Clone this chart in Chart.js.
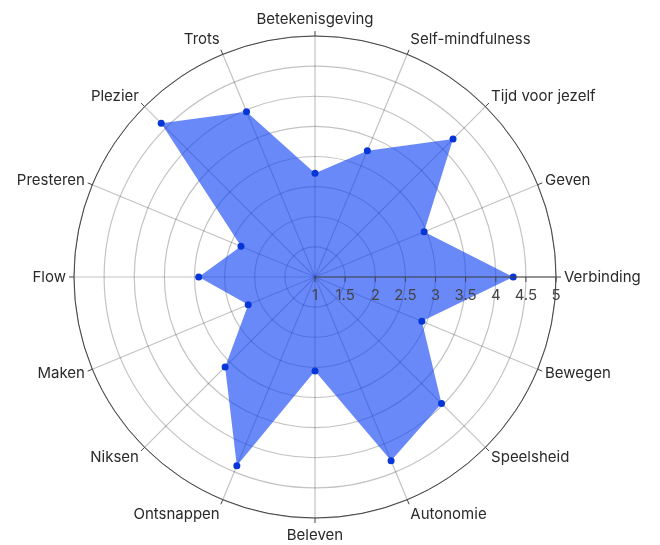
<!DOCTYPE html>
<html lang="nl">
<head>
<meta charset="UTF-8">
<script src="https://cdn.jsdelivr.net/npm/chart.js@4.4.1/dist/chart.umd.min.js"></script>
<title>Radar</title>
<style>
  html, body { margin: 0; padding: 0; background: #fff; }
  #wrap { width: 660px; height: 545px; }
</style>
</head>
<body>
<div id="wrap"><canvas id="chart"></canvas></div>
<script>
// categories clockwise, starting at the top
const categories = ['Betekenisgeving', 'Self-mindfulness', 'Tijd voor jezelf', 'Geven', 'Verbinding',
  'Bewegen', 'Speelsheid', 'Autonomie', 'Beleven', 'Ontsnappen', 'Niksen', 'Maken', 'Flow',
  'Presteren', 'Plezier', 'Trots'];
const scores = [2.72, 3.27, 4.24, 2.96, 4.29, 2.92, 3.97, 4.3, 2.56, 4.39, 3.11, 2.2, 2.93,
  2.33, 4.61, 3.97];
const tickValues = [1, 1.5, 2, 2.5, 3, 3.5, 4, 4.5, 5];
const tickLabels = ['1', '1.5', '2', '2.5', '3', '3.5', '4', '4.5', '5'];

const FONT = '15px Inter, "Noto Sans", sans-serif';

// plotly-like polar frame: dark outer ring, angular ticks + labels, radial axis along "Verbinding"
const polarFrame = {
  id: 'polarFrame',
  afterDraw(chart) {
    const s = chart.scales.r;
    const ctx = chart.ctx;
    const R = s.drawingArea;
    const cx = s.xCenter, cy = s.yCenter;
    ctx.save();
    ctx.strokeStyle = '#444';
    ctx.lineWidth = 1;
    ctx.beginPath();
    ctx.arc(cx, cy, R, 0, Math.PI * 2);
    ctx.stroke();

    ctx.font = FONT;
    ctx.fillStyle = '#2a2a2a';
    ctx.textBaseline = 'middle';
    categories.forEach((lab, i) => {
      const a = s.getPointPosition(i, R);
      const b = s.getPointPosition(i, R + 5);
      ctx.beginPath();
      ctx.moveTo(a.x, a.y);
      ctx.lineTo(b.x, b.y);
      ctx.stroke();
      const p = s.getPointPosition(i, R + 8);
      const c = Math.cos(p.angle), sn = Math.sin(p.angle);
      ctx.textAlign = c > 0.1 ? 'left' : (c < -0.1 ? 'right' : 'center');
      ctx.fillText(lab, p.x, p.y + sn * Math.abs(sn) * 9);
    });

    // radial axis (east)
    ctx.beginPath();
    ctx.moveTo(cx, cy);
    ctx.lineTo(cx + R, cy);
    ctx.stroke();
    ctx.fillStyle = '#444';
    ctx.textAlign = 'center';
    tickValues.forEach((v, i) => {
      const x = cx + s.getDistanceFromCenterForValue(v);
      ctx.beginPath();
      ctx.moveTo(x, cy);
      ctx.lineTo(x, cy + 5);
      ctx.stroke();
      ctx.fillText(tickLabels[i], x, cy + 18);
    });
    ctx.restore();
  }
};

new Chart(document.getElementById('chart'), {
  type: 'radar',
  data: {
    labels: categories,
    datasets: [{
      data: scores,
      fill: true,
      backgroundColor: 'rgba(15, 65, 245, 0.62)',
      borderWidth: 0,
      pointRadius: 3.5,
      pointBackgroundColor: '#0736d8',
      pointBorderWidth: 0
    }]
  },
  options: {
    responsive: true,
    maintainAspectRatio: false,
    animation: false,
    layout: { padding: { left: 74, right: 104, top: 36, bottom: 27 } },
    plugins: { legend: { display: false }, tooltip: { enabled: false } },
    scales: {
      r: {
        z: 1,
        min: 1,
        max: 5,
        ticks: { display: false, stepSize: 0.5 },
        pointLabels: { display: false },
        grid: { circular: true, color: 'rgba(0,0,0,0.24)', lineWidth: 1.2 },
        angleLines: { color: 'rgba(0,0,0,0.24)', lineWidth: 1.2 }
      }
    }
  },
  plugins: [polarFrame]
});
</script>
</body>
</html>
